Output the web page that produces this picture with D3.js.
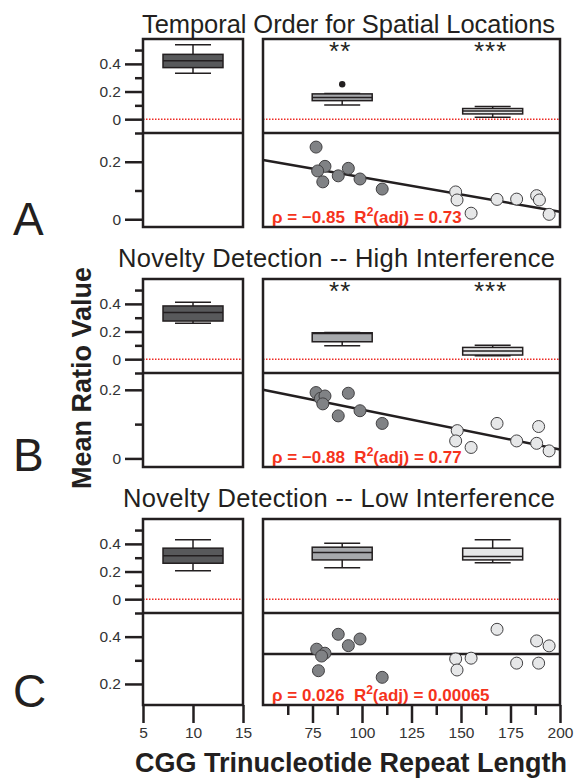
<!DOCTYPE html>
<html>
<head>
<meta charset="utf-8">
<script src="https://cdn.jsdelivr.net/npm/d3@7"></script>
<style>
body { margin: 0; background: #fff; }
svg { font-family: "Liberation Sans", Arial, Helvetica, sans-serif; }
</style>
</head>
<body>
<div id="chart"></div>
<script>
// ---- data ----
const panelLetters = ["A", "B", "C"];
const panelTitles = [
  "Temporal Order for Spatial Locations",
  "Novelty Detection -- High Interference",
  "Novelty Detection -- Low Interference"
];

// x position of each box: control (left axis), then two repeat groups (right axis)
const boxCenters = [10, 90, 166];

// box stats per group: [whisker low, q1, median, q3, whisker high]
const boxesA = [[0.332, 0.373, 0.423, 0.469, 0.539], [0.103, 0.134, 0.157, 0.183, 0.186], [0.014, 0.038, 0.060, 0.077, 0.091]];
const boxesB = [[0.260, 0.276, 0.337, 0.385, 0.412], [0.097, 0.126, 0.185, 0.191, 0.193], [0.025, 0.030, 0.060, 0.085, 0.100]];
const boxesC = [[0.206, 0.260, 0.315, 0.369, 0.429], [0.228, 0.284, 0.337, 0.376, 0.405], [0.264, 0.284, 0.308, 0.369, 0.429]];
const outliersA = [[90, 0.253]];
const starsA = ["", "**", "***"];
const starsB = ["", "**", "***"];
const starsC = ["", "", ""];

// scatter: repeat length vs mean ratio, first 8 = lower group (dark), last 8 = upper group (light)
const repeatA = [76.8, 81.3, 77.6, 80.2, 88.0, 93.1, 99.0, 110.2, 147.3, 148.0, 155.1, 168.2, 178.1, 188.2, 189.6, 194.5];
const ratioA = [0.251, 0.184, 0.168, 0.130, 0.151, 0.177, 0.140, 0.105, 0.095, 0.067, 0.021, 0.069, 0.070, 0.082, 0.067, 0.017];
const repeatB = [76.8, 79.0, 81.3, 80.2, 93.1, 99.0, 88.0, 110.2, 148.1, 147.3, 155.1, 168.2, 178.1, 189.2, 188.2, 194.5];
const ratioB = [0.192, 0.175, 0.182, 0.159, 0.190, 0.139, 0.124, 0.102, 0.081, 0.051, 0.032, 0.102, 0.051, 0.093, 0.044, 0.022];
const repeatC = [88.0, 99.0, 93.1, 77.1, 81.3, 79.6, 78.0, 110.2, 168.2, 188.2, 194.5, 147.3, 155.1, 148.0, 178.1, 189.2];
const ratioC = [0.410, 0.390, 0.362, 0.347, 0.330, 0.318, 0.256, 0.228, 0.431, 0.382, 0.361, 0.306, 0.309, 0.259, 0.288, 0.288];
const groupOf = [0, 0, 0, 0, 0, 0, 0, 0, 1, 1, 1, 1, 1, 1, 1, 1];

// linear fits [intercept, slope] and stats text
const fitA = [0.266, -0.0012];
const fitB = [0.258, -0.00116];
const fitC = [0.327, 0];
const rhoText = ["\u03c1 = \u22120.85", "\u03c1 = \u22120.88", "\u03c1 = 0.026"];
const r2Text = ["0.73", "0.77", "0.00065"];

// y axis domains and ticks per section
const topDomain = [-0.1, 0.58];
const bottomDomains = [[-0.027, 0.3], [-0.025, 0.249], [0.111, 0.5]];
const topMajor = [0, 0.2, 0.4];
const topMinor = [-0.1, 0.1, 0.3, 0.5];
const bottomMajor = [[0, 0.2], [0, 0.2], [0.2, 0.4]];
const bottomMinor = [[0.1], [0.1], [0.3]];

const leftTicks = [5, 10, 15];
const rightMajor = [75, 100, 125, 150, 175, 200];
const rightMinor = [62.5, 87.5, 112.5, 137.5, 162.5, 187.5];

// ---- layout ----
const ink = "#231f20";
const red = "#f5331c";
const boxFills = ["#58595b", "#a7a9ac", "#e6e7e8"];
const dotFills = ["#808285", "#e6e7e8"];

const svg = d3.select("#chart").append("svg").attr("width", 578).attr("height", 781);

const xLeft = d3.scaleLinear().domain([5, 15]).range([143, 243]);
const xRight = d3.scaleLinear().domain([50, 200]).range([263, 560]);

const panelTop = [39, 279, 519];
const panelMid = [133, 373, 613];
const panelBot = [227, 467, 705];
const titleBase = [33, 267, 507];
const titleWidth = [413, 437, 432];

const allBoxes = [boxesA, boxesB, boxesC];
const allStars = [starsA, starsB, starsC];
const allOutliers = [outliersA, [], []];
const allRepeat = [repeatA, repeatB, repeatC];
const allRatio = [ratioA, ratioB, ratioC];
const allFits = [fitA, fitB, fitC];

const fmt = d => d === 0 ? "0" : d3.format(".1f")(d);

function yAxis(g, scale, major, minor) {
  g.append("g").call(d3.axisLeft(scale).tickValues(minor).tickSize(8).tickFormat(""));
  g.append("g").call(d3.axisLeft(scale).tickValues(major).tickSize(18).tickPadding(4).tickFormat(fmt));
  g.selectAll(".domain").remove();
  g.selectAll("line").attr("stroke", ink).attr("stroke-width", 2.5);
  g.selectAll("text").attr("font-size", 15.5).attr("fill", "#333").attr("font-family", null);
}

for (let i = 0; i < 3; i++) {
  const yTop = d3.scaleLinear().domain(topDomain).range([panelMid[i], panelTop[i]]);
  const yBot = d3.scaleLinear().domain(bottomDomains[i]).range([panelBot[i], panelMid[i]]);
  const p = svg.append("g");

  // title and letter
  p.append("text").attr("x", 555).attr("y", titleBase[i]).attr("text-anchor", "end")
    .attr("font-size", 25.5).attr("textLength", titleWidth[i]).attr("lengthAdjust", "spacing")
    .attr("fill", ink).text(panelTitles[i]);
  p.append("text").attr("x", 13).attr("y", [235, 471, 707][i])
    .attr("font-size", 46).attr("fill", ink).text(panelLetters[i]);

  // y axes
  yAxis(p.append("g").attr("transform", "translate(143,0)"), yTop, topMajor, topMinor);
  yAxis(p.append("g").attr("transform", "translate(143,0)"), yBot, bottomMajor[i], bottomMinor[i]);

  // zero reference line in both columns
  [[143, 243], [263, 560]].forEach(ext => {
    p.append("line").attr("x1", ext[0]).attr("x2", ext[1]).attr("y1", yTop(0)).attr("y2", yTop(0))
      .attr("stroke", "#ee2a24").attr("stroke-width", 1.5).attr("stroke-dasharray", "1.5,1.5");
  });

  // box plots
  allBoxes[i].forEach((b, j) => {
    const cx = j === 0 ? xLeft(boxCenters[j]) : xRight(boxCenters[j]);
    const bw = 30, cw = 18;
    const g = p.append("g").attr("stroke", ink).attr("stroke-width", 1.5);
    g.append("line").attr("x1", cx).attr("x2", cx).attr("y1", yTop(b[0])).attr("y2", yTop(b[4]));
    g.append("line").attr("x1", cx - cw).attr("x2", cx + cw).attr("y1", yTop(b[0])).attr("y2", yTop(b[0]));
    g.append("line").attr("x1", cx - cw).attr("x2", cx + cw).attr("y1", yTop(b[4])).attr("y2", yTop(b[4]));
    g.append("rect").attr("x", cx - bw).attr("width", 2 * bw)
      .attr("y", yTop(b[3])).attr("height", yTop(b[1]) - yTop(b[3])).attr("fill", boxFills[j]);
    g.append("line").attr("x1", cx - bw).attr("x2", cx + bw).attr("y1", yTop(b[2])).attr("y2", yTop(b[2]));
    if (allStars[i][j]) {
      p.append("text").attr("x", cx - 2).attr("y", panelTop[i] + 21).attr("text-anchor", "middle")
        .attr("font-size", 26).attr("letter-spacing", 1).attr("fill", ink).text(allStars[i][j]);
    }
  });
  allOutliers[i].forEach(o => {
    p.append("circle").attr("cx", xRight(o[0])).attr("cy", yTop(o[1])).attr("r", 3.2).attr("fill", ink);
  });

  // fit line then points
  const fit = allFits[i];
  p.append("line").attr("x1", xRight(50)).attr("x2", xRight(200))
    .attr("y1", yBot(fit[0] + fit[1] * 50)).attr("y2", yBot(fit[0] + fit[1] * 200))
    .attr("stroke", ink).attr("stroke-width", 2.5);
  p.selectAll(".dot").data(allRepeat[i].map((r, k) => [r, allRatio[i][k], groupOf[k]]))
    .enter().append("circle")
    .attr("cx", d => xRight(d[0])).attr("cy", d => yBot(d[1])).attr("r", 6)
    .attr("fill", d => dotFills[d[2]]).attr("stroke", "#414042").attr("stroke-width", 1);

  // stats text
  const t = p.append("text").attr("x", 272).attr("y", panelBot[i] - 4)
    .attr("font-size", 17).attr("font-weight", "bold").attr("fill", red);
  t.append("tspan").text(rhoText[i] + "\u00a0\u00a0R");
  t.append("tspan").attr("dy", -7).attr("font-size", 12).text("2");
  t.append("tspan").attr("dy", 7).text("(adj) = " + r2Text[i]);

  // frames and divider
  [[143, 243], [263, 560]].forEach(ext => {
    p.append("rect").attr("x", ext[0]).attr("y", panelTop[i]).attr("width", ext[1] - ext[0])
      .attr("height", panelBot[i] - panelTop[i]).attr("fill", "none").attr("stroke", ink).attr("stroke-width", 2.5);
    p.append("line").attr("x1", ext[0]).attr("x2", ext[1]).attr("y1", panelMid[i]).attr("y2", panelMid[i])
      .attr("stroke", ink).attr("stroke-width", 2.5);
  });
}

// x axes under the last panel
function xAxis(scale, major, minor) {
  const g = svg.append("g").attr("transform", "translate(0,705)");
  if (minor.length) g.append("g").call(d3.axisBottom(scale).tickValues(minor).tickSize(10).tickFormat(""));
  g.append("g").call(d3.axisBottom(scale).tickValues(major).tickSize(18).tickPadding(4));
  g.selectAll(".domain").remove();
  g.selectAll("line").attr("stroke", ink).attr("stroke-width", 2.5);
  g.selectAll("text").attr("font-size", 15.5).attr("fill", "#333").attr("font-family", null);
}
xAxis(xLeft, leftTicks, []);
xAxis(xRight, rightMajor, rightMinor);

// axis titles
svg.append("text").attr("transform", "translate(91,378) rotate(-90)").attr("text-anchor", "middle")
  .attr("font-size", 27).attr("font-weight", "bold").attr("fill", ink).text("Mean Ratio Value");
svg.append("text").attr("x", 351).attr("y", 772).attr("text-anchor", "middle")
  .attr("font-size", 27).attr("font-weight", "bold").attr("fill", ink).text("CGG Trinucleotide Repeat Length");
</script>
</body>
</html>
